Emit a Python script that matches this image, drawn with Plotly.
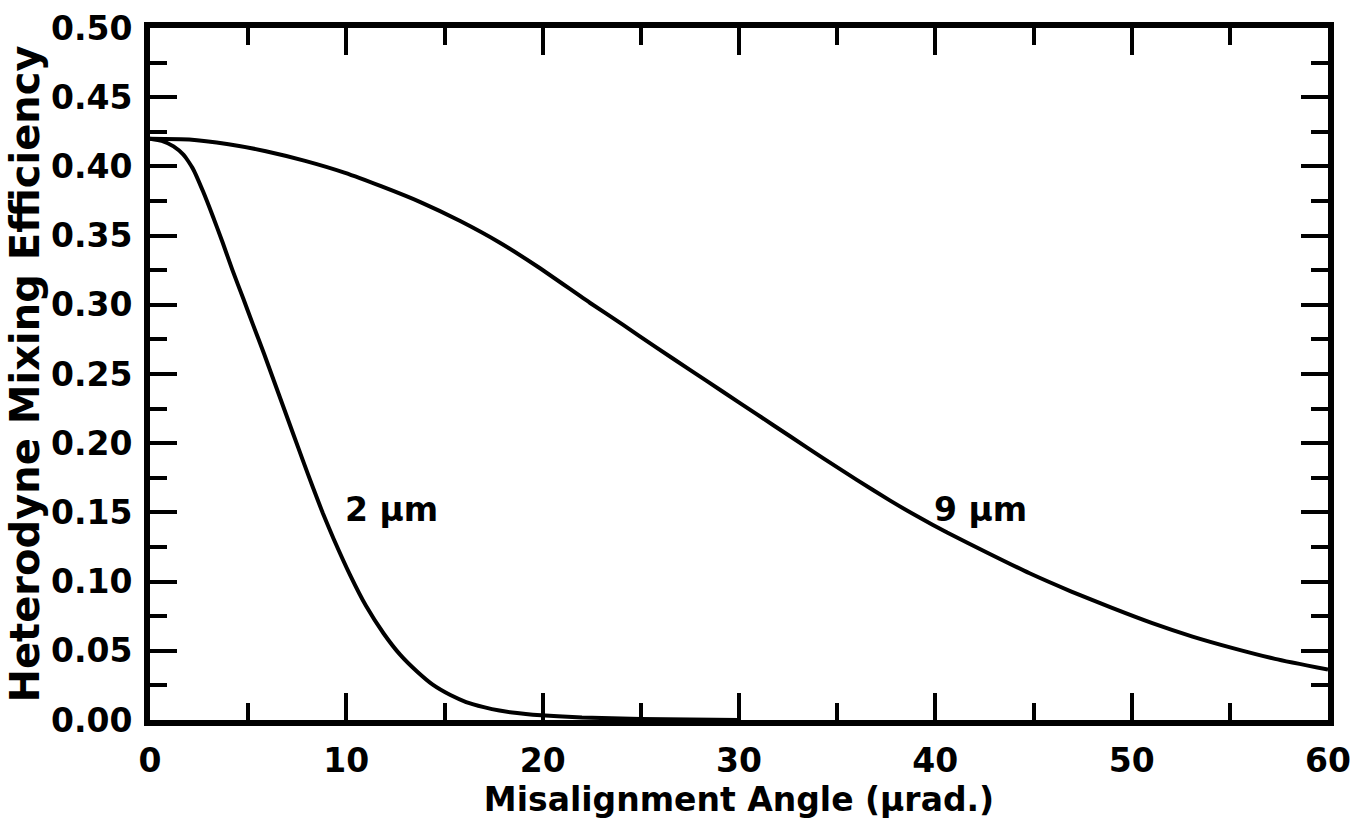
import plotly.graph_objects as go

# Misalignment angle (µrad.) and heterodyne mixing efficiency
angle_2um = [0, 0.6, 1.2, 1.7, 2.2, 2.7, 3.2, 3.7, 4.2, 4.75, 5.25, 5.8, 6.3, 6.8, 7.3,
             7.8, 8.3, 8.8, 9.35, 10.2, 11.0, 11.9, 12.75, 13.6, 14.4, 15.3, 16.1, 17.0,
             17.8, 18.7, 19.5, 22.0, 25.0, 30.0]
eff_2um = [0.420, 0.4185, 0.4145, 0.4085, 0.398, 0.382, 0.364, 0.345, 0.325, 0.3045,
           0.2855, 0.265, 0.2455, 0.226, 0.2065, 0.187, 0.168, 0.1495, 0.131, 0.1045,
           0.0825, 0.0625, 0.047, 0.035, 0.0255, 0.018, 0.013, 0.0093, 0.0068, 0.005,
           0.0038, 0.0018, 0.0008, 0.0]

angle_9um = [0, 2.0, 4.0, 5.9, 7.9, 9.9, 11.8, 13.8, 15.8, 17.8, 19.75, 22.4, 24.1, 25.8,
             27.5, 29.2, 30.9, 32.6, 34.3, 36.0, 37.7, 39.1, 40.6, 42.7, 44.8, 46.9, 49.0,
             51.05, 53.1, 55.2, 57.3, 60.0]
eff_9um = [0.420, 0.4195, 0.416, 0.411, 0.404, 0.3955, 0.3855, 0.374, 0.3605, 0.345,
           0.3275, 0.3015, 0.2855, 0.269, 0.253, 0.237, 0.221, 0.205, 0.189, 0.1735,
           0.1585, 0.147, 0.1355, 0.1205, 0.106, 0.093, 0.081, 0.070, 0.0603, 0.0518,
           0.0442, 0.0364]

curve_labels = ["2 \u00b5m", "9 \u00b5m"]
label_x = [12.3, 42.3]
label_y = [0.152, 0.152]

x_tickvals = [0, 10, 20, 30, 40, 50, 60]
x_ticktext = ["0", "10", "20", "30", "40", "50", "60"]
y_tickvals = [0.00, 0.05, 0.10, 0.15, 0.20, 0.25, 0.30, 0.35, 0.40, 0.45, 0.50]
y_ticktext = ["0.00", "0.05", "0.10", "0.15", "0.20", "0.25", "0.30", "0.35", "0.40",
              "0.45", "0.50"]

FONT = "DejaVu Sans"

fig = go.Figure()
for xs, ys in [(angle_2um, eff_2um), (angle_9um, eff_9um)]:
    fig.add_trace(go.Scatter(
        x=xs, y=ys, mode="lines",
        line=dict(color="black", width=4, shape="spline", smoothing=0.5),
        showlegend=False, hoverinfo="x+y"))

for txt, lx, ly in zip(curve_labels, label_x, label_y):
    fig.add_annotation(x=lx, y=ly, text=txt, showarrow=False,
                       xanchor="center", yanchor="middle",
                       font=dict(family=FONT, size=33, color="black", weight="bold"))

axis_common = dict(
    showgrid=False, zeroline=False, showline=True, linewidth=6, linecolor="black",
    mirror="ticks", ticks="inside", ticklen=27, tickwidth=4, tickcolor="black",
    tickfont=dict(family=FONT, size=33, color="black", weight="bold"),
)

fig.update_xaxes(
    range=[0, 60], tickmode="array", tickvals=x_tickvals, ticktext=x_ticktext,
    ticklabelstandoff=6,
    minor=dict(tickmode="linear", tick0=0, dtick=5, ticks="inside", ticklen=17,
               tickwidth=4, tickcolor="black"),
    title=dict(text="Misalignment Angle (\u00b5rad.)", standoff=0,
               font=dict(family=FONT, size=33, color="black", weight="bold")),
    **axis_common)
fig.update_yaxes(
    range=[0, 0.5], tickmode="array", tickvals=y_tickvals, ticktext=y_ticktext,
    ticklabelstandoff=5,
    minor=dict(tickmode="linear", tick0=0, dtick=0.025, ticks="inside", ticklen=17,
               tickwidth=4, tickcolor="black"),
    title=dict(text="Heterodyne Mixing Efficiency", standoff=1,
               font=dict(family=FONT, size=40, color="black", weight="bold")),
    **axis_common)

fig.update_layout(
    width=1360, height=835,
    margin=dict(l=150, r=32, t=28, b=115, autoexpand=False),
    paper_bgcolor="white", plot_bgcolor="white",
)

fig.write_html("out.html")
